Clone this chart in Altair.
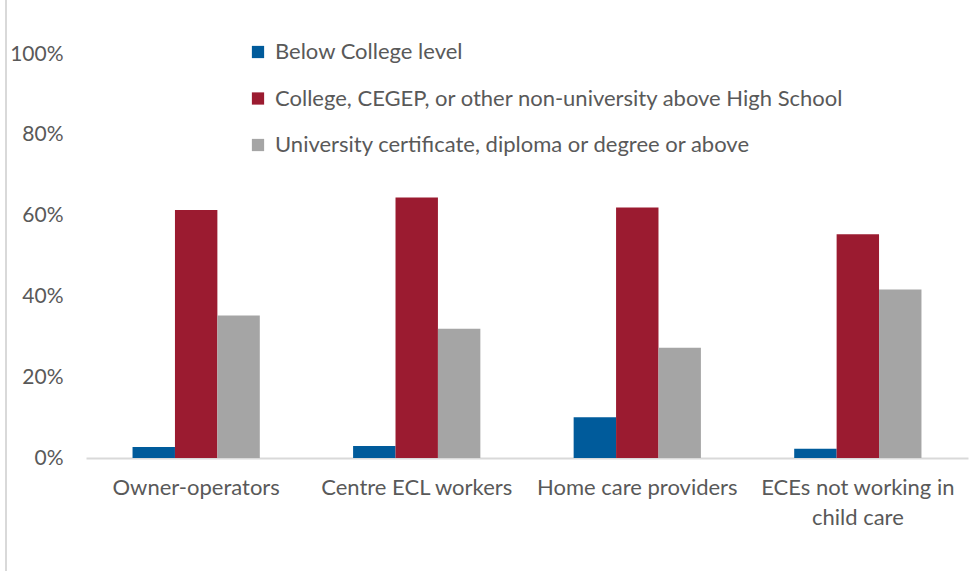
import altair as alt
import pandas as pd

categories = ["Owner-operators", "Centre ECL workers", "Home care providers", "ECEs not working in child care"]
series = [
    "Below College level",
    "College, CEGEP, or other non-university above High School",
    "University certificate, diploma or degree or above",
]
below_college = [2.7, 3.0, 10.1, 2.3]
college = [61.4, 64.5, 62.0, 55.4]
university = [35.3, 32.0, 27.3, 41.7]
colors = ["#005B9B", "#9B1B30", "#A5A5A5"]
y_ticks = [0, 20, 40, 60, 80, 100]

rows = []
for vals, s in zip([below_college, college, university], series):
    for c, v in zip(categories, vals):
        rows.append({"category": c, "series": s, "value": v})
df = pd.DataFrame(rows)

FONT = "Lato"
TXT = "#595959"

bars = alt.Chart(df).mark_bar().encode(
    x=alt.X("category:N", sort=categories, title=None,
            scale=alt.Scale(paddingInner=0.423, paddingOuter=0.211),
            axis=alt.Axis(labelAngle=0, domainColor="#D9D9D9", domainWidth=2, ticks=False,
                          labelPadding=19, labelFontSize=22, labelFont=FONT, labelColor=TXT,
                          labelLineHeight=30, labelLimit=300,
                          labelExpr="datum.value == 'ECEs not working in child care' ? ['ECEs not working in', 'child care'] : datum.value")),
    xOffset=alt.XOffset("series:N", sort=series),
    y=alt.Y("value:Q", title=None, scale=alt.Scale(domain=[0, 100], nice=False),
            axis=alt.Axis(values=y_ticks, domain=False, ticks=False, grid=False,
                          labelPadding=23, labelFontSize=21, labelFont=FONT, labelColor=TXT,
                          labelExpr="datum.value + '%'")),
    color=alt.Color("series:N", sort=series,
                    scale=alt.Scale(domain=series, range=colors),
                    legend=alt.Legend(title=None, orient="none", legendX=161, legendY=-13,
                                      symbolType="square", symbolSize=150, symbolStrokeWidth=0,
                                      labelFontSize=22, labelFont=FONT, labelColor=TXT,
                                      labelLimit=700, rowPadding=24.5, padding=0, labelOffset=6)),
)

border = alt.Chart(pd.DataFrame({"a": [0]})).mark_rule(color="#D9D9D9", strokeWidth=2).encode(
    x=alt.value(-80), y=alt.value(-54), y2=alt.value(517)
)

chart = alt.layer(bars, border).properties(
    width=882, height=404,
    autosize=alt.AutoSizeParams(type="none"),
    padding={"left": 86, "top": 54, "right": 10, "bottom": 113},
).configure_view(stroke=None)

chart.save("out.html", embed_options={"renderer": "svg", "actions": False})
